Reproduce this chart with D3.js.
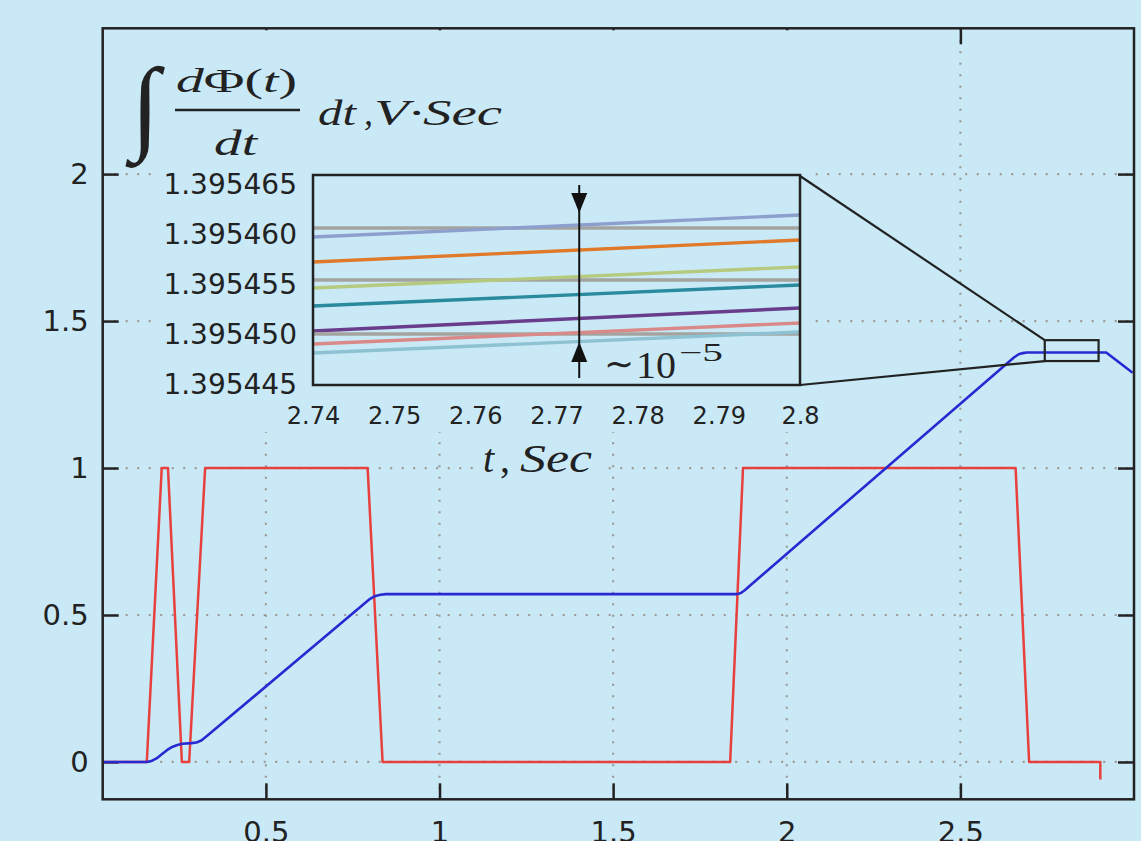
<!DOCTYPE html>
<html lang="en">
<head>
<meta charset="utf-8">
<title>Flux integral with zoomed inset</title>
<script src="https://d3js.org/d3.v7.min.js"></script>
<style>
  body { margin: 0; background: #c9e9f7; }
  .tick text { font-family: "DejaVu Sans", sans-serif; fill: #222; }
  .math { font-family: "Liberation Serif", serif; font-style: italic; fill: #222; }
  .up { font-style: normal; }
</style>
</head>
<body>
<script>
const W = 1141, H = 841;
const bg = "#c9e9f7";

// main axes
const xTicks = [0.5, 1, 1.5, 2, 2.5];
const yTicks = [0, 0.5, 1, 1.5, 2];

// switching signal (red)
const redT = [0.03, 0.157, 0.200, 0.218, 0.258, 0.279, 0.325, 0.793, 0.836, 1.837, 1.874, 2.659, 2.698, 2.903, 2.903];
const redV = [0, 0, 1, 1, 0, 0, 1, 1, 0, 0, 1, 1, 0, 0, -0.06];

// integral of dPhi/dt (blue)
const blueT = [0.03, 0.157, 0.170, 0.185, 0.200, 0.215, 0.230, 0.245, 0.260, 0.285, 0.300, 0.315, 0.330, 0.800, 0.815, 0.830, 0.845, 1.857, 1.868, 1.880, 1.892, 2.655, 2.668, 2.680, 2.692, 2.920, 2.996];
const blueV = [0, 0, 0.003, 0.012, 0.026, 0.040, 0.051, 0.058, 0.062, 0.064, 0.066, 0.074, 0.088, 0.555, 0.565, 0.569, 0.571, 0.571, 0.575, 0.585, 0.598, 1.377, 1.387, 1.391, 1.393, 1.393, 1.324];

// inset: 10 runs between t = 2.74 and 2.8
const insetT = [2.74, 2.8];
const insetTicksX = [2.74, 2.75, 2.76, 2.77, 2.78, 2.79, 2.8];
const insetTicksY = [1.395445, 1.395450, 1.395455, 1.395460, 1.395465];
const insetStart = [1.3954607, 1.3954598, 1.3954573, 1.3954555, 1.3954547, 1.3954529, 1.3954504, 1.3954501, 1.3954491, 1.3954482];
const insetEnd   = [1.3954607, 1.3954620, 1.3954595, 1.3954555, 1.3954568, 1.3954550, 1.3954527, 1.3954501, 1.3954512, 1.3954503];
const insetColors = ["#a4a39f", "#8d9fcc", "#e07a2a", "#a4a39f", "#b5ca7e", "#2a8a9e", "#6a3d8c", "#a4a39f", "#d98a88", "#8ec2d2"];

// spread marker (~1e-5)
const arrowT = 2.7728;
const arrowSpan = [1.3954493, 1.3954622];

// zoom window drawn on the main curve
const zoomT = [2.743, 2.898];
const zoomV = [1.364, 1.435];

const m = {left: 102.7, right: 1134, top: 28.3, bottom: 799.3};

const x = d3.scaleLinear().domain([0.03, 3.0]).range([m.left, m.right]);
const y = d3.scaleLinear().domain([-0.127, 2.496]).range([m.bottom, m.top]);

const svg = d3.select("body").append("svg")
  .attr("width", W).attr("height", H);

svg.append("rect").attr("width", W).attr("height", H).attr("fill", bg);

// dotted grid
const grid = svg.append("g").attr("stroke", "#9d9a96").attr("stroke-width", 2.2)
  .attr("stroke-dasharray", "2,9.5");
grid.selectAll(".gx").data(xTicks).join("line")
  .attr("x1", d => x(d)).attr("x2", d => x(d))
  .attr("y1", m.top).attr("y2", m.bottom);
grid.selectAll(".gy").data(yTicks).join("line")
  .attr("x1", m.left).attr("x2", m.right)
  .attr("y1", d => y(d)).attr("y2", d => y(d));

// axes (inward ticks)
function styleAxis(g) {
  g.select(".domain").remove();
  g.selectAll(".tick line").attr("stroke", "#222").attr("stroke-width", 2.5);
  g.selectAll(".tick text").attr("font-size", 29);
}
svg.append("g").attr("transform", `translate(0,${m.bottom})`)
  .call(d3.axisBottom(x).tickValues(xTicks).tickSizeInner(-16).tickSizeOuter(0).tickPadding(22).tickFormat(d => String(d)))
  .call(styleAxis);
svg.append("g").attr("transform", `translate(${m.left},0)`)
  .call(d3.axisLeft(y).tickValues(yTicks).tickSizeInner(-16).tickSizeOuter(0).tickPadding(14).tickFormat(d => String(d)))
  .call(styleAxis);
svg.append("g").attr("transform", `translate(0,${m.top})`)
  .call(d3.axisTop(x).tickValues(xTicks).tickSizeInner(-16).tickSizeOuter(0).tickFormat(""))
  .call(styleAxis);
svg.append("g").attr("transform", `translate(${m.right},0)`)
  .call(d3.axisRight(y).tickValues(yTicks).tickSizeInner(-16).tickSizeOuter(0).tickFormat(""))
  .call(styleAxis);

// curves
svg.append("clipPath").attr("id", "plot").append("rect")
  .attr("x", m.left).attr("y", m.top)
  .attr("width", m.right - m.left).attr("height", m.bottom - m.top);

const line = d3.line().x(d => x(d[0])).y(d => y(d[1]));
svg.append("path")
  .datum(d3.zip(redT, redV))
  .attr("clip-path", "url(#plot)")
  .attr("fill", "none").attr("stroke", "#e8403c").attr("stroke-width", 2.5)
  .attr("stroke-linejoin", "round")
  .attr("d", line);

svg.append("path")
  .datum(d3.zip(blueT, blueV))
  .attr("clip-path", "url(#plot)")
  .attr("fill", "none").attr("stroke", "#2929d2").attr("stroke-width", 2.6)
  .attr("stroke-linejoin", "round")
  .attr("d", line);

// cover behind title and inset
svg.append("rect").attr("x", 152).attr("y", m.top + 2)
  .attr("width", 658).attr("height", 432 - m.top - 2).attr("fill", bg);
svg.append("rect").attr("x", 478).attr("y", 432)
  .attr("width", 122).attr("height", 50).attr("fill", bg);

// inset
const ix = d3.scaleLinear().domain(insetT).range([313, 800]);
const iy = d3.scaleLinear().domain([1.395445, 1.395466]).range([385, 175]);

const inset = svg.append("g");
inset.selectAll(".run").data(insetStart).join("line")
  .attr("x1", ix(insetT[0])).attr("x2", ix(insetT[1]))
  .attr("y1", d => iy(d)).attr("y2", (d, i) => iy(insetEnd[i]))
  .attr("stroke", (d, i) => insetColors[i]).attr("stroke-width", 3.4);

inset.append("rect").attr("x", 313).attr("y", 175)
  .attr("width", 800 - 313).attr("height", 385 - 175)
  .attr("fill", "none").attr("stroke", "#222").attr("stroke-width", 2.5);

inset.append("g").attr("transform", "translate(0,385)")
  .call(d3.axisBottom(ix).tickValues(insetTicksX).tickSize(0).tickPadding(22).tickFormat(d => String(d)))
  .call(g => g.select(".domain").remove())
  .call(g => g.selectAll("text").attr("font-size", 24));
inset.append("g").attr("transform", "translate(313,0)")
  .call(d3.axisLeft(iy).tickValues(insetTicksY).tickSize(0).tickPadding(16).tickFormat(d3.format(".6f")))
  .call(g => g.select(".domain").remove())
  .call(g => g.selectAll("text").attr("font-size", 28));

// spread arrow
const ax = ix(arrowT);
inset.append("line").attr("x1", ax).attr("x2", ax).attr("y1", 185).attr("y2", 378)
  .attr("stroke", "#111").attr("stroke-width", 2);
const tTop = iy(arrowSpan[1]), tBot = iy(arrowSpan[0]);
inset.append("path").attr("fill", "#111")
  .attr("d", `M${ax - 8},${tTop - 20}L${ax + 8},${tTop - 20}L${ax},${tTop}Z`);
inset.append("path").attr("fill", "#111")
  .attr("d", `M${ax - 8},${tBot + 20}L${ax + 8},${tBot + 20}L${ax},${tBot}Z`);

const note = svg.append("g").attr("class", "math");
note.append("text").attr("x", 604).attr("y", 376).attr("font-size", 36).attr("font-style", "normal").text("∼");
note.append("text").attr("x", 636).attr("y", 378).attr("font-size", 38).attr("font-style", "normal")
  .attr("textLength", 40).attr("lengthAdjust", "spacingAndGlyphs").text("10");
note.append("text").attr("x", 679).attr("y", 361).attr("font-size", 25).attr("font-style", "normal")
  .attr("textLength", 44).attr("lengthAdjust", "spacingAndGlyphs").text("−5");

// zoom window and connectors
svg.append("rect")
  .attr("x", x(zoomT[0])).attr("y", y(zoomV[1]))
  .attr("width", x(zoomT[1]) - x(zoomT[0])).attr("height", y(zoomV[0]) - y(zoomV[1]))
  .attr("fill", "none").attr("stroke", "#222").attr("stroke-width", 2.2);
svg.append("line").attr("x1", 800).attr("y1", 176).attr("x2", x(zoomT[0])).attr("y2", y(zoomV[1]))
  .attr("stroke", "#222").attr("stroke-width", 2.2);
svg.append("line").attr("x1", 800).attr("y1", 385).attr("x2", x(zoomT[0])).attr("y2", y(zoomV[0]))
  .attr("stroke", "#222").attr("stroke-width", 2.2);

// frame
svg.append("rect").attr("x", m.left).attr("y", m.top)
  .attr("width", m.right - m.left).attr("height", m.bottom - m.top)
  .attr("fill", "none").attr("stroke", "#222").attr("stroke-width", 2.5);

// y title: integral of dPhi/dt dt, V·Sec
const title = svg.append("g").attr("class", "math");
title.append("text").attr("x", 131).attr("y", 140).attr("font-size", 104).attr("font-style", "normal")
  .attr("font-family", "DejaVu Sans").attr("font-weight", 200).text("∫");
title.append("text").attr("x", 176).attr("y", 92).attr("font-size", 34)
  .attr("textLength", 121).attr("lengthAdjust", "spacingAndGlyphs")
  .html('d<tspan class="up">Φ(</tspan>t<tspan class="up">)</tspan>');
title.append("line").attr("x1", 175).attr("x2", 300).attr("y1", 110).attr("y2", 110)
  .attr("stroke", "#222").attr("stroke-width", 2.5);
title.append("text").attr("x", 214).attr("y", 155).attr("font-size", 36)
  .attr("textLength", 43).attr("lengthAdjust", "spacingAndGlyphs").text("dt");
title.append("text").attr("x", 318).attr("y", 125).attr("font-size", 36)
  .attr("textLength", 38).attr("lengthAdjust", "spacingAndGlyphs").text("dt");
title.append("text").attr("x", 364).attr("y", 125).attr("font-size", 36).text(",");
title.append("text").attr("x", 374).attr("y", 125).attr("font-size", 36)
  .attr("textLength", 128).attr("lengthAdjust", "spacingAndGlyphs").text("V·Sec");

// inset x title
title.append("text").attr("x", 483).attr("y", 472).attr("font-size", 40).text("t");
title.append("text").attr("x", 500).attr("y", 472).attr("font-size", 40).attr("font-style", "normal").text(",");
title.append("text").attr("x", 520).attr("y", 472).attr("font-size", 40)
  .attr("textLength", 72).attr("lengthAdjust", "spacingAndGlyphs").text("Sec");
</script>
</body>
</html>
